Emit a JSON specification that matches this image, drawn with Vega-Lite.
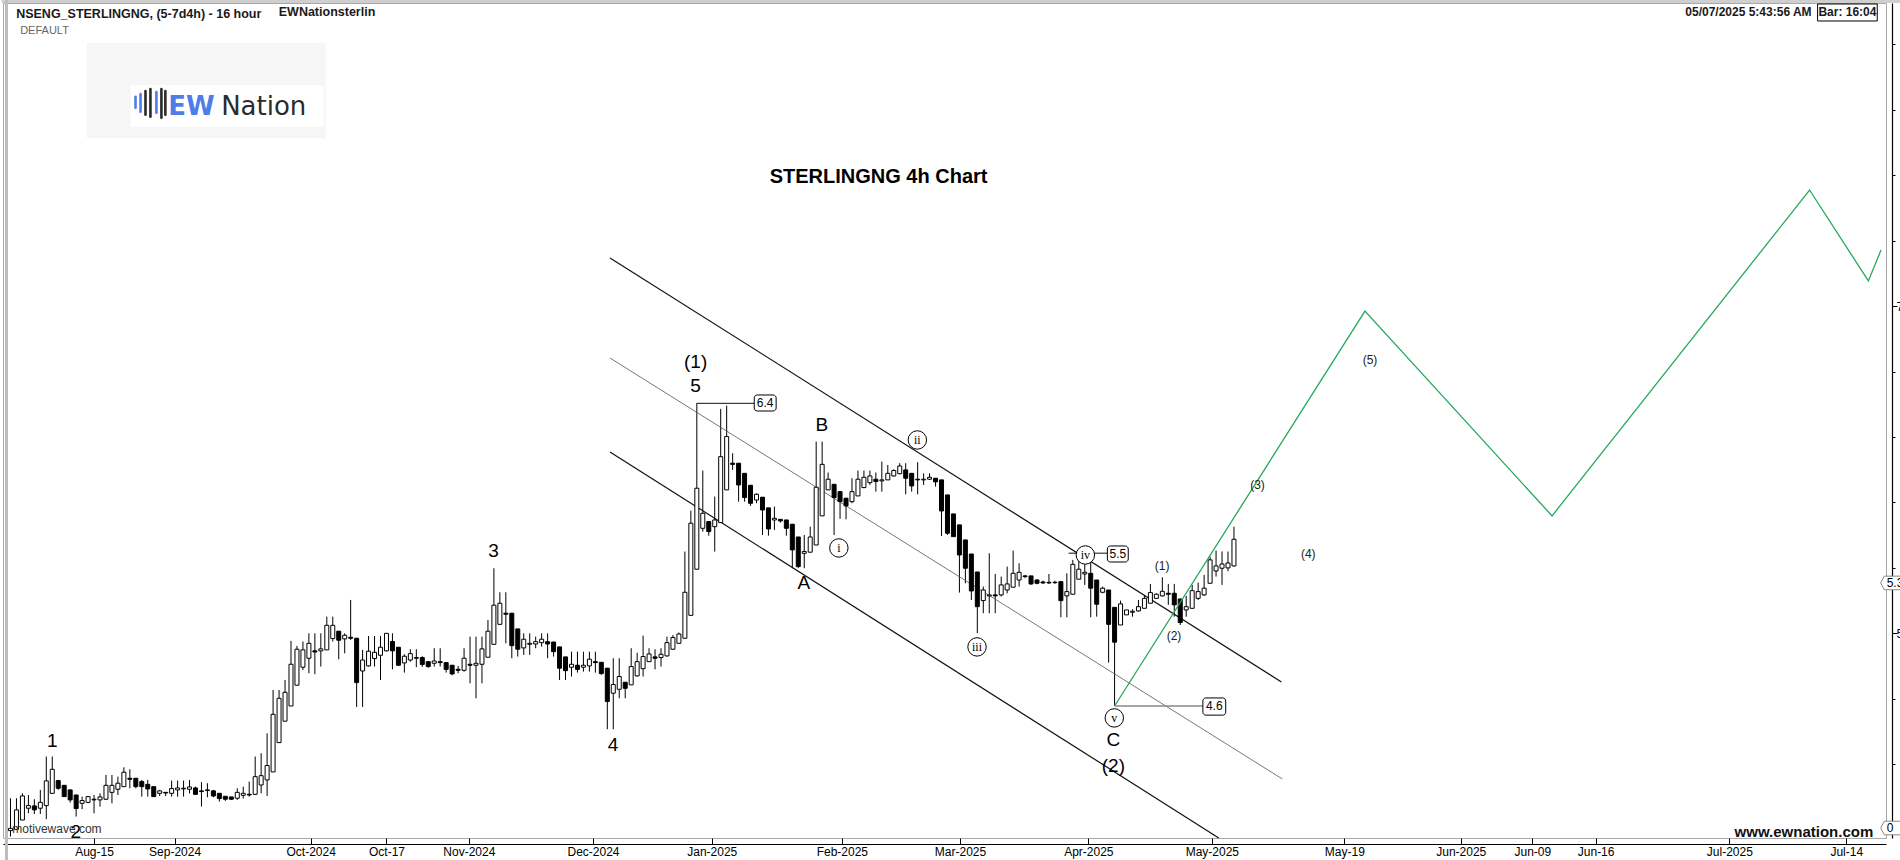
{
"$schema": "https://vega.github.io/schema/vega-lite/v6.json",
"width": 1883, "height": 835,
"autosize": {"type": "none"},
"padding": {"left": 3, "top": 3, "right": 14, "bottom": 22},
"background": "white",
"config": {"view": {"stroke": "#a8a8a8", "strokeWidth": 1}, "font": "Liberation Sans"},
"datasets": {
"candles": [
{"i":0,"o":3.794,"h":3.992,"l":3.758,"c":3.808},{"i":1,"o":3.802,"h":3.992,"l":3.802,"c":3.921},{"i":2,"o":3.859,"h":4.022,"l":3.859,"c":4.006},{"i":3,"o":3.931,"h":4.012,"l":3.900,"c":3.947},{"i":4,"o":3.945,"h":3.986,"l":3.896,"c":3.921},{"i":5,"o":3.931,"h":4.043,"l":3.896,"c":3.967},{"i":6,"o":3.947,"h":4.247,"l":3.864,"c":4.098},{"i":7,"o":4.022,"h":4.247,"l":4.022,"c":4.169},{"i":8,"o":4.100,"h":4.104,"l":4.043,"c":4.053},{"i":9,"o":4.071,"h":4.071,"l":4.002,"c":4.002},
{"i":10,"o":4.043,"h":4.043,"l":3.965,"c":3.982},{"i":11,"o":4.012,"h":4.012,"l":3.880,"c":3.929},{"i":12,"o":3.961,"h":4.002,"l":3.925,"c":3.978},{"i":13,"o":3.967,"h":4.002,"l":3.961,"c":4.002},{"i":14,"o":3.986,"h":4.012,"l":3.900,"c":3.982},{"i":15,"o":3.982,"h":4.022,"l":3.941,"c":4.000},{"i":16,"o":3.986,"h":4.134,"l":3.982,"c":4.071},{"i":17,"o":4.028,"h":4.134,"l":3.961,"c":4.071},{"i":18,"o":4.047,"h":4.124,"l":4.012,"c":4.084},{"i":19,"o":4.063,"h":4.181,"l":4.063,"c":4.151},
{"i":20,"o":4.114,"h":4.169,"l":4.053,"c":4.108},{"i":21,"o":4.114,"h":4.114,"l":4.053,"c":4.063},{"i":22,"o":4.094,"h":4.104,"l":4.002,"c":4.063},{"i":23,"o":4.077,"h":4.104,"l":4.002,"c":4.049},{"i":24,"o":4.063,"h":4.063,"l":4.002,"c":4.002},{"i":25,"o":4.022,"h":4.043,"l":4.006,"c":4.037},{"i":26,"o":4.028,"h":4.028,"l":4.006,"c":4.024},{"i":27,"o":4.022,"h":4.100,"l":4.002,"c":4.051},{"i":28,"o":4.043,"h":4.100,"l":4.002,"c":4.055},{"i":29,"o":4.049,"h":4.100,"l":4.002,"c":4.053},
{"i":30,"o":4.047,"h":4.104,"l":4.022,"c":4.061},{"i":31,"o":4.055,"h":4.063,"l":4.012,"c":4.016},{"i":32,"o":4.037,"h":4.090,"l":3.941,"c":4.033},{"i":33,"o":4.043,"h":4.084,"l":3.998,"c":4.039},{"i":34,"o":4.037,"h":4.043,"l":3.998,"c":4.006},{"i":35,"o":4.022,"h":4.022,"l":3.972,"c":3.990},{"i":36,"o":4.004,"h":4.004,"l":3.976,"c":3.986},{"i":37,"o":4.000,"h":4.000,"l":3.982,"c":3.986},{"i":38,"o":3.992,"h":4.053,"l":3.982,"c":4.028},{"i":39,"o":4.010,"h":4.063,"l":3.990,"c":4.022},
{"i":40,"o":4.016,"h":4.094,"l":4.002,"c":4.012},{"i":41,"o":4.016,"h":4.247,"l":4.012,"c":4.124},{"i":42,"o":4.073,"h":4.267,"l":4.022,"c":4.130},{"i":43,"o":4.104,"h":4.389,"l":4.006,"c":4.192},{"i":44,"o":4.153,"h":4.654,"l":4.153,"c":4.505},{"i":45,"o":4.332,"h":4.654,"l":4.332,"c":4.603},{"i":46,"o":4.463,"h":4.715,"l":4.463,"c":4.640},{"i":47,"o":4.556,"h":4.954,"l":4.556,"c":4.811},{"i":48,"o":4.683,"h":4.923,"l":4.683,"c":4.903},{"i":49,"o":4.793,"h":4.950,"l":4.776,"c":4.899},
{"i":50,"o":4.848,"h":5.000,"l":4.756,"c":4.939},{"i":51,"o":4.893,"h":5.000,"l":4.750,"c":4.886},{"i":52,"o":4.893,"h":5.000,"l":4.797,"c":4.905},{"i":53,"o":4.899,"h":5.102,"l":4.899,"c":5.049},{"i":54,"o":4.968,"h":5.102,"l":4.950,"c":5.049},{"i":55,"o":5.013,"h":5.013,"l":4.841,"c":4.958},{"i":56,"o":4.966,"h":5.000,"l":4.878,"c":4.988},{"i":57,"o":4.976,"h":5.204,"l":4.960,"c":4.970},{"i":58,"o":4.970,"h":4.970,"l":4.550,"c":4.699},{"i":59,"o":4.770,"h":4.899,"l":4.550,"c":4.837},
{"i":60,"o":4.801,"h":4.984,"l":4.797,"c":4.891},{"i":61,"o":4.846,"h":4.984,"l":4.797,"c":4.884},{"i":62,"o":4.866,"h":4.984,"l":4.715,"c":4.915},{"i":63,"o":4.893,"h":5.000,"l":4.889,"c":5.000},{"i":64,"o":4.950,"h":5.000,"l":4.780,"c":4.893},{"i":65,"o":4.915,"h":4.915,"l":4.801,"c":4.805},{"i":66,"o":4.819,"h":4.872,"l":4.760,"c":4.860},{"i":67,"o":4.837,"h":4.903,"l":4.827,"c":4.876},{"i":68,"o":4.852,"h":4.903,"l":4.793,"c":4.848},{"i":69,"o":4.852,"h":4.860,"l":4.795,"c":4.810},
{"i":70,"o":4.827,"h":4.830,"l":4.790,"c":4.797},{"i":71,"o":4.817,"h":4.909,"l":4.797,"c":4.831},{"i":72,"o":4.827,"h":4.909,"l":4.797,"c":4.821},{"i":73,"o":4.821,"h":4.821,"l":4.760,"c":4.780},{"i":74,"o":4.805,"h":4.805,"l":4.744,"c":4.752},{"i":75,"o":4.780,"h":4.801,"l":4.756,"c":4.774},{"i":76,"o":4.774,"h":4.909,"l":4.766,"c":4.848},{"i":77,"o":4.811,"h":4.980,"l":4.695,"c":4.805},{"i":78,"o":4.805,"h":4.980,"l":4.603,"c":4.817},{"i":79,"o":4.811,"h":4.980,"l":4.695,"c":4.905},
{"i":80,"o":4.854,"h":5.082,"l":4.854,"c":5.013},{"i":81,"o":4.933,"h":5.398,"l":4.933,"c":5.172},{"i":82,"o":5.055,"h":5.251,"l":5.055,"c":5.184},{"i":83,"o":5.123,"h":5.251,"l":4.939,"c":5.117},{"i":84,"o":5.123,"h":5.123,"l":4.848,"c":4.925},{"i":85,"o":5.027,"h":5.027,"l":4.858,"c":4.903},{"i":86,"o":4.911,"h":5.000,"l":4.868,"c":4.964},{"i":87,"o":4.933,"h":5.000,"l":4.868,"c":4.939},{"i":88,"o":4.935,"h":4.980,"l":4.909,"c":4.949},{"i":89,"o":4.943,"h":5.000,"l":4.919,"c":4.964},
{"i":90,"o":4.949,"h":5.000,"l":4.848,"c":4.935},{"i":91,"o":4.947,"h":4.947,"l":4.858,"c":4.888},{"i":92,"o":4.917,"h":4.917,"l":4.715,"c":4.787},{"i":93,"o":4.856,"h":4.856,"l":4.715,"c":4.772},{"i":94,"o":4.793,"h":4.888,"l":4.736,"c":4.811},{"i":95,"o":4.805,"h":4.888,"l":4.760,"c":4.780},{"i":96,"o":4.793,"h":4.888,"l":4.766,"c":4.805},{"i":97,"o":4.801,"h":4.888,"l":4.766,"c":4.842},{"i":98,"o":4.827,"h":4.888,"l":4.760,"c":4.821},{"i":99,"o":4.823,"h":4.823,"l":4.746,"c":4.754},
{"i":100,"o":4.787,"h":4.787,"l":4.414,"c":4.583},{"i":101,"o":4.634,"h":4.848,"l":4.414,"c":4.687},{"i":102,"o":4.658,"h":4.848,"l":4.603,"c":4.736},{"i":103,"o":4.701,"h":4.701,"l":4.603,"c":4.664},{"i":104,"o":4.685,"h":4.909,"l":4.685,"c":4.797},{"i":105,"o":4.740,"h":4.882,"l":4.736,"c":4.827},{"i":106,"o":4.784,"h":4.986,"l":4.736,"c":4.858},{"i":107,"o":4.827,"h":4.909,"l":4.827,"c":4.874},{"i":108,"o":4.856,"h":4.903,"l":4.780,"c":4.848},{"i":109,"o":4.852,"h":4.909,"l":4.797,"c":4.872},
{"i":110,"o":4.862,"h":4.980,"l":4.858,"c":4.943},{"i":111,"o":4.903,"h":4.990,"l":4.899,"c":4.974},{"i":112,"o":4.939,"h":5.005,"l":4.939,"c":4.996},{"i":113,"o":4.970,"h":5.500,"l":4.970,"c":5.251},{"i":114,"o":5.110,"h":5.750,"l":5.110,"c":5.673},{"i":115,"o":5.392,"h":6.406,"l":5.392,"c":5.887},{"i":116,"o":5.642,"h":5.995,"l":5.622,"c":5.734},{"i":117,"o":5.683,"h":5.683,"l":5.597,"c":5.622},{"i":118,"o":5.652,"h":5.836,"l":5.500,"c":5.693},{"i":119,"o":5.677,"h":6.372,"l":5.677,"c":6.080},
{"i":120,"o":5.877,"h":6.392,"l":5.877,"c":6.203},{"i":121,"o":6.040,"h":6.101,"l":5.999,"c":6.033},{"i":122,"o":6.040,"h":6.040,"l":5.805,"c":5.907},{"i":123,"o":5.978,"h":5.978,"l":5.805,"c":5.830},{"i":124,"o":5.905,"h":5.905,"l":5.779,"c":5.795},{"i":125,"o":5.815,"h":5.856,"l":5.795,"c":5.850},{"i":126,"o":5.832,"h":5.832,"l":5.601,"c":5.754},{"i":127,"o":5.767,"h":5.767,"l":5.597,"c":5.638},{"i":128,"o":5.693,"h":5.775,"l":5.632,"c":5.703},{"i":129,"o":5.697,"h":5.697,"l":5.677,"c":5.687},
{"i":130,"o":5.693,"h":5.693,"l":5.597,"c":5.642},{"i":131,"o":5.667,"h":5.667,"l":5.398,"c":5.510},{"i":132,"o":5.589,"h":5.589,"l":5.398,"c":5.408},{"i":133,"o":5.489,"h":5.601,"l":5.398,"c":5.500},{"i":134,"o":5.496,"h":5.652,"l":5.496,"c":5.589},{"i":135,"o":5.540,"h":6.172,"l":5.540,"c":5.893},{"i":136,"o":5.718,"h":6.172,"l":5.718,"c":6.033},{"i":137,"o":5.877,"h":5.983,"l":5.877,"c":5.942},{"i":138,"o":5.911,"h":5.911,"l":5.601,"c":5.830},{"i":139,"o":5.866,"h":5.870,"l":5.700,"c":5.805},
{"i":140,"o":5.826,"h":5.826,"l":5.697,"c":5.779},{"i":141,"o":5.805,"h":5.948,"l":5.795,"c":5.866},{"i":142,"o":5.840,"h":5.995,"l":5.840,"c":5.942},{"i":143,"o":5.891,"h":5.995,"l":5.887,"c":5.954},{"i":144,"o":5.921,"h":5.995,"l":5.907,"c":5.962},{"i":145,"o":5.942,"h":5.983,"l":5.866,"c":5.928},{"i":146,"o":5.932,"h":6.050,"l":5.866,"c":5.938},{"i":147,"o":5.938,"h":6.029,"l":5.938,"c":5.978},{"i":148,"o":5.962,"h":6.003,"l":5.958,"c":5.995},{"i":149,"o":5.976,"h":6.040,"l":5.972,"c":6.023},
{"i":150,"o":5.999,"h":6.040,"l":5.850,"c":5.948},{"i":151,"o":5.978,"h":5.978,"l":5.866,"c":5.901},{"i":152,"o":5.942,"h":6.046,"l":5.850,"c":5.938},{"i":153,"o":5.938,"h":5.978,"l":5.907,"c":5.942},{"i":154,"o":5.942,"h":5.978,"l":5.938,"c":5.954},{"i":155,"o":5.948,"h":5.948,"l":5.897,"c":5.926},{"i":156,"o":5.938,"h":5.938,"l":5.595,"c":5.748},{"i":157,"o":5.846,"h":5.846,"l":5.602,"c":5.612},{"i":158,"o":5.730,"h":5.730,"l":5.591,"c":5.591},{"i":159,"o":5.663,"h":5.663,"l":5.249,"c":5.479},
{"i":160,"o":5.571,"h":5.571,"l":5.306,"c":5.398},{"i":161,"o":5.485,"h":5.485,"l":5.204,"c":5.259},{"i":162,"o":5.375,"h":5.375,"l":5.001,"c":5.163},{"i":163,"o":5.200,"h":5.286,"l":5.123,"c":5.265},{"i":164,"o":5.229,"h":5.489,"l":5.123,"c":5.235},{"i":165,"o":5.235,"h":5.363,"l":5.123,"c":5.229},{"i":166,"o":5.235,"h":5.347,"l":5.225,"c":5.296},{"i":167,"o":5.265,"h":5.408,"l":5.245,"c":5.302},{"i":168,"o":5.282,"h":5.506,"l":5.282,"c":5.367},{"i":169,"o":5.326,"h":5.428,"l":5.286,"c":5.373},
{"i":170,"o":5.351,"h":5.357,"l":5.337,"c":5.347},{"i":171,"o":5.351,"h":5.351,"l":5.296,"c":5.302},{"i":172,"o":5.326,"h":5.331,"l":5.300,"c":5.306},{"i":173,"o":5.314,"h":5.322,"l":5.302,"c":5.308},{"i":174,"o":5.312,"h":5.363,"l":5.302,"c":5.308},{"i":175,"o":5.310,"h":5.322,"l":5.302,"c":5.312},{"i":176,"o":5.316,"h":5.316,"l":5.098,"c":5.200},{"i":177,"o":5.229,"h":5.367,"l":5.098,"c":5.255},{"i":178,"o":5.239,"h":5.449,"l":5.239,"c":5.422},{"i":179,"o":5.331,"h":5.459,"l":5.331,"c":5.392},
{"i":180,"o":5.363,"h":5.449,"l":5.296,"c":5.373},{"i":181,"o":5.367,"h":5.449,"l":5.098,"c":5.276},{"i":182,"o":5.326,"h":5.326,"l":5.102,"c":5.178},{"i":183,"o":5.251,"h":5.286,"l":5.245,"c":5.276},{"i":184,"o":5.265,"h":5.265,"l":4.821,"c":5.055},{"i":185,"o":5.159,"h":5.159,"l":4.556,"c":4.946},{"i":186,"o":5.051,"h":5.200,"l":5.051,"c":5.180},{"i":187,"o":5.113,"h":5.143,"l":5.113,"c":5.143},{"i":188,"o":5.129,"h":5.147,"l":5.102,"c":5.135},{"i":189,"o":5.137,"h":5.204,"l":5.133,"c":5.163},
{"i":190,"o":5.153,"h":5.235,"l":5.153,"c":5.214},{"i":191,"o":5.184,"h":5.302,"l":5.184,"c":5.249},{"i":192,"o":5.214,"h":5.245,"l":5.214,"c":5.239},{"i":193,"o":5.229,"h":5.343,"l":5.225,"c":5.257},{"i":194,"o":5.245,"h":5.302,"l":5.174,"c":5.239},{"i":195,"o":5.245,"h":5.302,"l":5.102,"c":5.174},{"i":196,"o":5.210,"h":5.210,"l":5.051,"c":5.066},{"i":197,"o":5.143,"h":5.229,"l":5.102,"c":5.163},{"i":198,"o":5.153,"h":5.296,"l":5.153,"c":5.261},{"i":199,"o":5.214,"h":5.310,"l":5.204,"c":5.255},
{"i":200,"o":5.235,"h":5.357,"l":5.229,"c":5.276},{"i":201,"o":5.306,"h":5.469,"l":5.306,"c":5.449},{"i":202,"o":5.381,"h":5.506,"l":5.347,"c":5.412},{"i":203,"o":5.398,"h":5.500,"l":5.296,"c":5.424},{"i":204,"o":5.400,"h":5.500,"l":5.380,"c":5.430},{"i":205,"o":5.412,"h":5.652,"l":5.408,"c":5.575}
],
"chan": [{"x1":100.45,"y1":7.295,"x2":212.95,"y2":4.703},{"x1":100.45,"y1":6.109,"x2":202.45,"y2":3.749}],
"mid": [{"x1":100.45,"y1":6.683,"x2":213.1,"y2":4.110}],
"green": [{"i":185,"p":4.556},{"i":226.95,"p":6.970},{"i":258.3,"p":5.718},{"i":301.45,"p":7.710},{"i":311.3,"p":7.154},{"i":313.42,"p":7.343}],
"conn": [{"x1":114.95,"x2":124.6,"y":6.406},{"x1":177.3,"x2":183.8,"y":5.49}],
"connGrey": [{"x1":185,"x2":199.8,"y":4.556}],
"boxes": [{"x1":124.62,"x2":128.29,"y1":6.457,"y2":6.359,"t":"6.4","tx":126.45,"ty":6.408},{"x1":183.79,"x2":187.29,"y1":5.534,"y2":5.436,"t":"5.5","tx":185.54,"ty":5.485},{"x1":199.79,"x2":203.62,"y1":4.605,"y2":4.5,"t":"4.6","tx":201.7,"ty":4.553}],
"tags": [{"i":314.7,"p":5.308,"t":"5.30"},{"i":314.7,"p":3.810,"t":"0"}],
"waveBig": [{"i":7.0,"p":4.342,"t":"1"},{"i":10.95,"p":3.786,"t":"2"},{"i":80.95,"p":5.504,"t":"3"},{"i":100.95,"p":4.318,"t":"4"},{"i":114.8,"p":6.512,"t":"5"},{"i":114.8,"p":6.659,"t":"(1)"},{"i":132.95,"p":5.308,"t":"A"},{"i":135.95,"p":6.274,"t":"B"},{"i":184.8,"p":4.348,"t":"C"},{"i":184.8,"p":4.19,"t":"(2)"}],
"waveSmall": [{"i":192.95,"p":5.412,"t":"(1)"},{"i":194.95,"p":4.984,"t":"(2)"},{"i":208.95,"p":5.907,"t":"(3)"},{"i":217.45,"p":5.485,"t":"(4)"},{"i":227.8,"p":6.672,"t":"(5)"}],
"circ": [{"i":138.8,"p":5.522,"t":"i"},{"i":151.95,"p":6.182,"t":"ii"},{"i":161.95,"p":4.917,"t":"iii"},{"i":180.1,"p":5.479,"t":"iv"},{"i":184.95,"p":4.483,"t":"v"}],
"title": [{"i":145.45,"p":7.79,"t":"STERLINGNG 4h Chart"}],
"hdrLeft": [{"i":0.95,"p":8.786,"t":"NSENG_STERLINGNG, (5-7d4h) - 16 hour"},{"i":44.95,"p":8.798,"t":"EWNationsterlin"}],
"hdrRight": [{"i":301.79,"p":8.798,"t":"05/07/2025 5:43:56 AM"}],
"barTxt": [{"i":307.79,"p":8.798,"t":"Bar: 16:04"}],
"barBox": [{"x1":302.79,"x2":312.79,"y1":8.847,"y2":8.743}],
"deflt": [{"i":1.62,"p":8.682,"t":"DEFAULT"}],
"mw": [{"i":0.29,"p":3.804,"t":"motivewave.com"}],
"ewn": [{"i":312.12,"p":3.786,"t":"www.ewnation.com"}],
"bandTop": [{"x1":-1.5,"x2":317,"y":8.862}],
"bandLeft": [{"x":-0.667,"y1":3.6,"y2":8.87}],
"logoOuter": [{"x1":12.79,"x2":52.79,"y1":8.608,"y2":8.027}],
"logoInner": [{"x1":20.12,"x2":52.45,"y1":8.352,"y2":8.096}],
"logoEW": [{"i":26.45,"p":8.218,"t":"EW"}],
"logoNation": [{"i":35.3,"p":8.218,"t":"Nation"}],
"logoBlue": [{"i":20.95,"p1":8.279,"p2":8.212},{"i":21.79,"p1":8.297,"p2":8.188},{"i":24.45,"p1":8.309,"p2":8.182}],
"logoBlack": [{"i":22.62,"p1":8.315,"p2":8.170},{"i":23.45,"p1":8.327,"p2":8.158},{"i":25.29,"p1":8.327,"p2":8.152},{"i":25.95,"p1":8.315,"p2":8.170}]
},
"layer": [
{"data": {"name": "candles"}, "mark": {"type": "rule", "color": "black", "strokeWidth": 1},
 "encoding": {"x": {"field": "i", "type": "quantitative", "title": null,
   "scale": {"domain": [-0.41667, 313.41667], "nice": false, "zero": false},
   "axis": {"orient": "bottom", "offset": 6, "grid": false, "title": null, "domainColor": "black", "domainWidth": 1.2, "tickColor": "black", "tickSize": -6, "labelPadding": 8, "labelFont": "Liberation Sans", "labelFontSize": 12, "labelColor": "black", "labelBound": false, "labelOverlap": false, "labelFlush": false,
     "values": [14, 27.5, 50.3, 63, 76.8, 97.6, 117.5, 139.3, 159.1, 180.6, 201.3, 223.5, 243, 255, 265.6, 288, 307.6],
     "labelExpr": "['Aug-15','Sep-2024','Oct-2024','Oct-17','Nov-2024','Dec-2024','Jan-2025','Feb-2025','Mar-2025','Apr-2025','May-2025','May-19','Jun-2025','Jun-09','Jun-16','Jul-2025','Jul-14'][indexof([14, 27.5, 50.3, 63, 76.8, 97.6, 117.5, 139.3, 159.1, 180.6, 201.3, 223.5, 243, 255, 265.6, 288, 307.6], datum.value)]"}},
   "y": {"field": "l", "type": "quantitative", "title": null,
   "scale": {"domain": [3.749, 8.853], "nice": false, "zero": false},
   "axis": {"orient": "right", "offset": 6, "grid": false, "title": null, "domainColor": "black", "domainWidth": 1.2, "tickColor": "black", "tickSize": {"condition": {"test": "abs(datum.value*2 - round(datum.value*2)) < 0.01", "value": 5}, "value": 3}, "labelPadding": -1, "labelFont": "Liberation Sans", "labelFontSize": 13, "labelColor": "black", "labelBound": false, "labelOverlap": false, "labelFlush": false,
     "values": [3.8,3.9,4.0,4.1,4.2,4.3,4.4,4.5,4.6,4.7,4.8,4.9,5.0,5.1,5.2,5.3,5.4,5.5,5.6,5.7,5.8,5.9,6.0,6.1,6.2,6.3,6.4,6.5,6.6,6.7,6.8,6.9,7.0,7.1,7.2,7.3,7.4,7.5,7.6,7.7,7.8,7.9,8.0,8.1,8.2,8.3,8.4,8.5,8.6,8.7,8.8],
     "labelExpr": "abs(datum.value*2 - round(datum.value*2)) < 0.01 ? format(datum.value, '.1f') : ''"}},
   "y2": {"field": "h"}}},
{"data": {"name": "bandTop"}, "mark": {"type": "rule", "color": "#cfcfcf", "strokeWidth": 3, "clip": false},
 "encoding": {"x": {"field": "x1", "type": "quantitative", "title": null}, "x2": {"field": "x2"}, "y": {"field": "y", "type": "quantitative", "title": null}}},
{"data": {"name": "bandLeft"}, "mark": {"type": "rule", "color": "#bdbdbd", "strokeWidth": 3, "clip": false},
 "encoding": {"x": {"field": "x", "type": "quantitative", "title": null}, "y": {"field": "y1", "type": "quantitative", "title": null}, "y2": {"field": "y2"}}},
{"data": {"name": "logoOuter"}, "mark": {"type": "rect", "fill": "#f6f6f6"},
 "encoding": {"x": {"field": "x1", "type": "quantitative", "title": null}, "x2": {"field": "x2"}, "y": {"field": "y1", "type": "quantitative", "title": null}, "y2": {"field": "y2"}}},
{"data": {"name": "logoInner"}, "mark": {"type": "rect", "fill": "#ffffff"},
 "encoding": {"x": {"field": "x1", "type": "quantitative", "title": null}, "x2": {"field": "x2"}, "y": {"field": "y1", "type": "quantitative", "title": null}, "y2": {"field": "y2"}}},
{"data": {"name": "logoBlue"}, "mark": {"type": "rule", "color": "#4f7de8", "strokeWidth": 2.6, "strokeCap": "round"},
 "encoding": {"x": {"field": "i", "type": "quantitative", "title": null}, "y": {"field": "p1", "type": "quantitative", "title": null}, "y2": {"field": "p2"}}},
{"data": {"name": "logoBlack"}, "mark": {"type": "rule", "color": "#2a2a2a", "strokeWidth": 2.6, "strokeCap": "round"},
 "encoding": {"x": {"field": "i", "type": "quantitative", "title": null}, "y": {"field": "p1", "type": "quantitative", "title": null}, "y2": {"field": "p2"}}},
{"data": {"name": "logoEW"}, "mark": {"type": "text", "font": "DejaVu Sans", "fontSize": 26, "fontWeight": 600, "color": "#4f7de8", "align": "left", "baseline": "middle"},
 "encoding": {"x": {"field": "i", "type": "quantitative", "title": null}, "y": {"field": "p", "type": "quantitative", "title": null}, "text": {"field": "t"}}},
{"data": {"name": "logoNation"}, "mark": {"type": "text", "font": "DejaVu Sans", "fontSize": 26, "fontWeight": "normal", "color": "#2b2b2b", "align": "left", "baseline": "middle"},
 "encoding": {"x": {"field": "i", "type": "quantitative", "title": null}, "y": {"field": "p", "type": "quantitative", "title": null}, "text": {"field": "t"}}},
{"data": {"name": "chan"}, "mark": {"type": "rule", "color": "#111", "strokeWidth": 1.2},
 "encoding": {"x": {"field": "x1", "type": "quantitative", "title": null}, "y": {"field": "y1", "type": "quantitative", "title": null}, "x2": {"field": "x2"}, "y2": {"field": "y2"}}},
{"data": {"name": "mid"}, "mark": {"type": "rule", "color": "#555", "strokeWidth": 0.8},
 "encoding": {"x": {"field": "x1", "type": "quantitative", "title": null}, "y": {"field": "y1", "type": "quantitative", "title": null}, "x2": {"field": "x2"}, "y2": {"field": "y2"}}},
{"data": {"name": "candles"}, "mark": {"type": "bar", "width": 4, "stroke": "black", "strokeWidth": 1},
 "encoding": {"x": {"field": "i", "type": "quantitative", "title": null}, "y": {"field": "o", "type": "quantitative", "title": null}, "y2": {"field": "c"},
   "fill": {"condition": {"test": "datum.c >= datum.o", "value": "white"}, "value": "black"}}},
{"data": {"name": "green"}, "mark": {"type": "line", "color": "#26a85c", "strokeWidth": 1.3},
 "encoding": {"x": {"field": "i", "type": "quantitative", "title": null}, "y": {"field": "p", "type": "quantitative", "title": null}}},
{"data": {"name": "conn"}, "mark": {"type": "rule", "color": "#111", "strokeWidth": 1},
 "encoding": {"x": {"field": "x1", "type": "quantitative", "title": null}, "x2": {"field": "x2"}, "y": {"field": "y", "type": "quantitative", "title": null}}},
{"data": {"name": "connGrey"}, "mark": {"type": "rule", "color": "#888", "strokeWidth": 1.5},
 "encoding": {"x": {"field": "x1", "type": "quantitative", "title": null}, "x2": {"field": "x2"}, "y": {"field": "y", "type": "quantitative", "title": null}}},
{"data": {"name": "boxes"}, "mark": {"type": "rect", "fill": "white", "stroke": "black", "strokeWidth": 1, "cornerRadius": 3},
 "encoding": {"x": {"field": "x1", "type": "quantitative", "title": null}, "x2": {"field": "x2"}, "y": {"field": "y1", "type": "quantitative", "title": null}, "y2": {"field": "y2"}}},
{"data": {"name": "boxes"}, "mark": {"type": "text", "fontSize": 12, "color": "black", "align": "center", "baseline": "middle"},
 "encoding": {"x": {"field": "tx", "type": "quantitative", "title": null}, "y": {"field": "ty", "type": "quantitative", "title": null}, "text": {"field": "t"}}},
{"data": {"name": "tags"}, "mark": {"type": "point", "shape": "M-1,0 L-0.55,-0.85 L1.6,-0.85 L1.6,0.85 L-0.55,0.85 Z", "size": 256, "filled": true, "fill": "white", "stroke": "#888", "strokeWidth": 1, "opacity": 1, "clip": false},
 "encoding": {"x": {"field": "i", "type": "quantitative", "title": null}, "y": {"field": "p", "type": "quantitative", "title": null}}},
{"data": {"name": "tags"}, "mark": {"type": "text", "fontSize": 12, "color": "black", "align": "left", "baseline": "middle", "dx": -2, "clip": false},
 "encoding": {"x": {"field": "i", "type": "quantitative", "title": null}, "y": {"field": "p", "type": "quantitative", "title": null}, "text": {"field": "t"}}},
{"data": {"name": "barBox"}, "mark": {"type": "rect", "fill": "white", "stroke": "black", "strokeWidth": 1},
 "encoding": {"x": {"field": "x1", "type": "quantitative", "title": null}, "x2": {"field": "x2"}, "y": {"field": "y1", "type": "quantitative", "title": null}, "y2": {"field": "y2"}}},
{"data": {"name": "circ"}, "mark": {"type": "point", "shape": "circle", "size": 340, "filled": true, "fill": "white", "stroke": "black", "strokeWidth": 1, "opacity": 1},
 "encoding": {"x": {"field": "i", "type": "quantitative", "title": null}, "y": {"field": "p", "type": "quantitative", "title": null}}},
{"data": {"name": "circ"}, "mark": {"type": "text", "font": "Liberation Serif", "fontSize": 12, "color": "black", "align": "center", "baseline": "middle"},
 "encoding": {"x": {"field": "i", "type": "quantitative", "title": null}, "y": {"field": "p", "type": "quantitative", "title": null}, "text": {"field": "t"}}},
{"data": {"name": "waveBig"}, "mark": {"type": "text", "fontSize": 19, "color": "black", "align": "center", "baseline": "middle"},
 "encoding": {"x": {"field": "i", "type": "quantitative", "title": null}, "y": {"field": "p", "type": "quantitative", "title": null}, "text": {"field": "t"}}},
{"data": {"name": "waveSmall"}, "mark": {"type": "text", "fontSize": 12, "color": "#222", "align": "center", "baseline": "middle"},
 "encoding": {"x": {"field": "i", "type": "quantitative", "title": null}, "y": {"field": "p", "type": "quantitative", "title": null}, "text": {"field": "t"}}},
{"data": {"name": "title"}, "mark": {"type": "text", "fontSize": 20, "fontWeight": "bold", "color": "black", "align": "center", "baseline": "middle"},
 "encoding": {"x": {"field": "i", "type": "quantitative", "title": null}, "y": {"field": "p", "type": "quantitative", "title": null}, "text": {"field": "t"}}},
{"data": {"name": "hdrLeft"}, "mark": {"type": "text", "fontSize": 12.5, "fontWeight": "bold", "color": "#1a1a1a", "align": "left", "baseline": "middle"},
 "encoding": {"x": {"field": "i", "type": "quantitative", "title": null}, "y": {"field": "p", "type": "quantitative", "title": null}, "text": {"field": "t"}}},
{"data": {"name": "hdrRight"}, "mark": {"type": "text", "fontSize": 12, "fontWeight": "bold", "color": "#1a1a1a", "align": "right", "baseline": "middle"},
 "encoding": {"x": {"field": "i", "type": "quantitative", "title": null}, "y": {"field": "p", "type": "quantitative", "title": null}, "text": {"field": "t"}}},
{"data": {"name": "barTxt"}, "mark": {"type": "text", "fontSize": 12, "fontWeight": "bold", "color": "#1a1a1a", "align": "center", "baseline": "middle"},
 "encoding": {"x": {"field": "i", "type": "quantitative", "title": null}, "y": {"field": "p", "type": "quantitative", "title": null}, "text": {"field": "t"}}},
{"data": {"name": "deflt"}, "mark": {"type": "text", "fontSize": 11, "color": "#666", "align": "left", "baseline": "middle"},
 "encoding": {"x": {"field": "i", "type": "quantitative", "title": null}, "y": {"field": "p", "type": "quantitative", "title": null}, "text": {"field": "t"}}},
{"data": {"name": "mw"}, "mark": {"type": "text", "fontSize": 12, "color": "#333", "align": "left", "baseline": "middle"},
 "encoding": {"x": {"field": "i", "type": "quantitative", "title": null}, "y": {"field": "p", "type": "quantitative", "title": null}, "text": {"field": "t"}}},
{"data": {"name": "ewn"}, "mark": {"type": "text", "fontSize": 15, "fontWeight": "bold", "color": "#111", "align": "right", "baseline": "middle"},
 "encoding": {"x": {"field": "i", "type": "quantitative", "title": null}, "y": {"field": "p", "type": "quantitative", "title": null}, "text": {"field": "t"}}}
]
}
